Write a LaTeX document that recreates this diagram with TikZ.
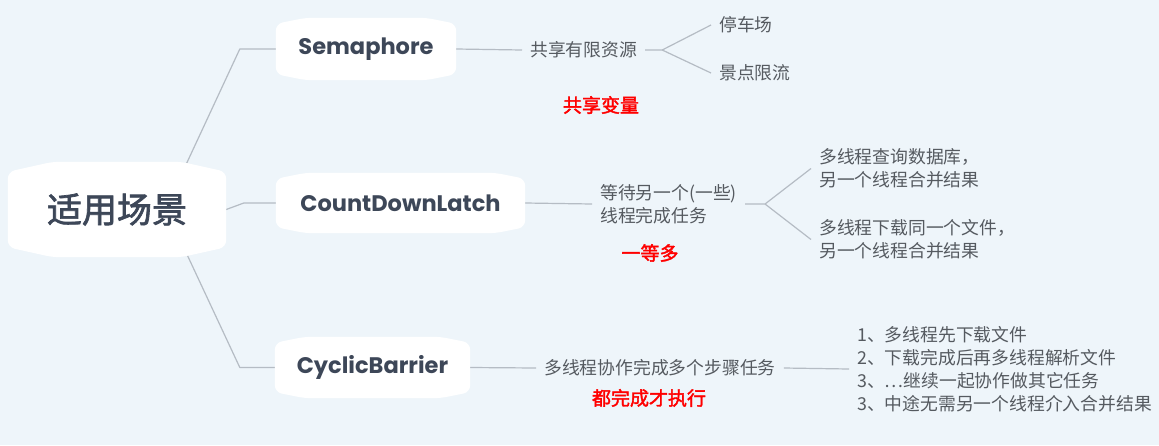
\documentclass[tikz,border=0pt]{standalone}
\usepackage{fontspec}
\setmainfont{Noto Sans CJK SC}
\newfontfamily\cjk{Noto Sans CJK SC}
\newfontfamily\cjkbold[FakeBold=2]{Noto Sans CJK SC}
\newfontfamily\pop{Poppins}
\usetikzlibrary{calc}
\definecolor{bgc}{HTML}{EEF5FA}
\definecolor{nodetxt}{HTML}{3D4758}
\definecolor{graytxt}{HTML}{555A60}
\definecolor{linec}{HTML}{B5BCC4}
\pgfdeclarelayer{back}\pgfdeclarelayer{lines}\pgfdeclarelayer{shapes}
\pgfsetlayers{back,lines,shapes,main}
\newcommand\mmblob[3]{%
 \fill[white, rounded corners=7pt] ([yshift=-#3]#1.north west) -- ([xshift=#2]#1.north west) -- ([xshift=-#2]#1.north east) -- ([yshift=-#3]#1.north east) -- ([yshift=#3]#1.south east) -- ([xshift=-#2]#1.south east) -- ([xshift=#2]#1.south west) -- ([yshift=#3]#1.south west) -- cycle;}
\tikzset{
  topic/.style={inner sep=0pt, text=nodetxt, font=\pop\bfseries\fontsize{22.5}{27}\selectfont},
  sub/.style={anchor=west, inner xsep=8pt, inner ysep=2pt, text=graytxt, font=\cjk\fontsize{17.8}{23}\selectfont, align=left},
  note/.style={text=red, font=\cjkbold\fontsize{19}{22}\selectfont},
  conn/.style={draw=linec, line width=1.2pt, line join=round}
}
\begin{document}
\begin{tikzpicture}[x=1pt,y=-1pt]
\begin{pgfonlayer}{back}\fill[bgc] (0,0) rectangle (1159,445);\end{pgfonlayer}
\useasboundingbox (0,0) rectangle (1159,445);
% main topics
\node[topic, minimum width=218pt, minimum height=95pt, font=\cjkbold\fontsize{35}{40}\selectfont] (root) at (117,209.5) {适用场景};
\node[topic, minimum width=180pt, minimum height=62pt] (sem) at (366,49) {Semaphore};
\node[topic, minimum width=249pt, minimum height=60pt] (cdl) at (400.5,203) {CountDownLatch};
\node[topic, minimum width=195pt, minimum height=61pt] (cb) at (372.5,367.5) {CyclicBarrier};
% subtopics
\node[sub] (t1) at (522,50) {共享有限资源};
\node[sub] (l1) at (711,25) {停车场};
\node[sub] (l2) at (711,73) {景点限流};
\node[sub] (t2) at (592,204) {等待另一个(一些)\\线程完成任务};
\node[sub] (l3) at (811,168.5) {多线程查询数据库，\\另一个线程合并结果};
\node[sub] (l4) at (811,239.5) {多线程下载同一个文件，\\另一个线程合并结果};
\node[sub] (t3) at (536,368) {多线程协作完成多个步骤任务};
\node[sub] (l5) at (849,369) {1、多线程先下载文件\\2、下载完成后再多线程解析文件\\3、…继续一起协作做其它任务\\3、中途无需另一个线程介入合并结果};
% notes
\node[note] (n1) at (601,105) {共享变量};
\node[note] (n2) at (650,253) {一等多};
\node[note] (n3) at (649,398) {都完成才执行};
\begin{pgfonlayer}{shapes}
\mmblob{root}{45pt}{10pt}
\mmblob{sem}{30pt}{6pt}
\mmblob{cdl}{30pt}{6pt}
\mmblob{cb}{30pt}{6pt}
\end{pgfonlayer}
\begin{pgfonlayer}{lines}
\draw[conn] ([shift={(68pt,-5pt)}]root.north) -- ([xshift=-36pt]sem.west) -- (sem.west);
\draw[conn] (root.east) -- ([xshift=-32pt]cdl.west) -- (cdl.west);
\draw[conn] ([shift={(68pt,7pt)}]root.south) -- ([xshift=-35pt]cb.west) -- (cb.west);
\draw[conn] (sem.east) -- (t1.west);
\coordinate (f1) at ($(t1.east)+(17pt,0pt)$);
\draw[conn] (t1.east) -- (f1) -- (l1.west);
\draw[conn] (f1) -- (l2.west);
\draw[conn] (cdl.east) -- (t2.west);
\coordinate (f2) at ($(t2.east)+(20pt,0pt)$);
\draw[conn] (t2.east) -- (f2) -- (l3.west);
\draw[conn] (f2) -- (l4.west);
\draw[conn] (cb.east) -- (t3.west);
\draw[conn] (t3.east) -- (l5.west);
\end{pgfonlayer}
\end{tikzpicture}
\end{document}
